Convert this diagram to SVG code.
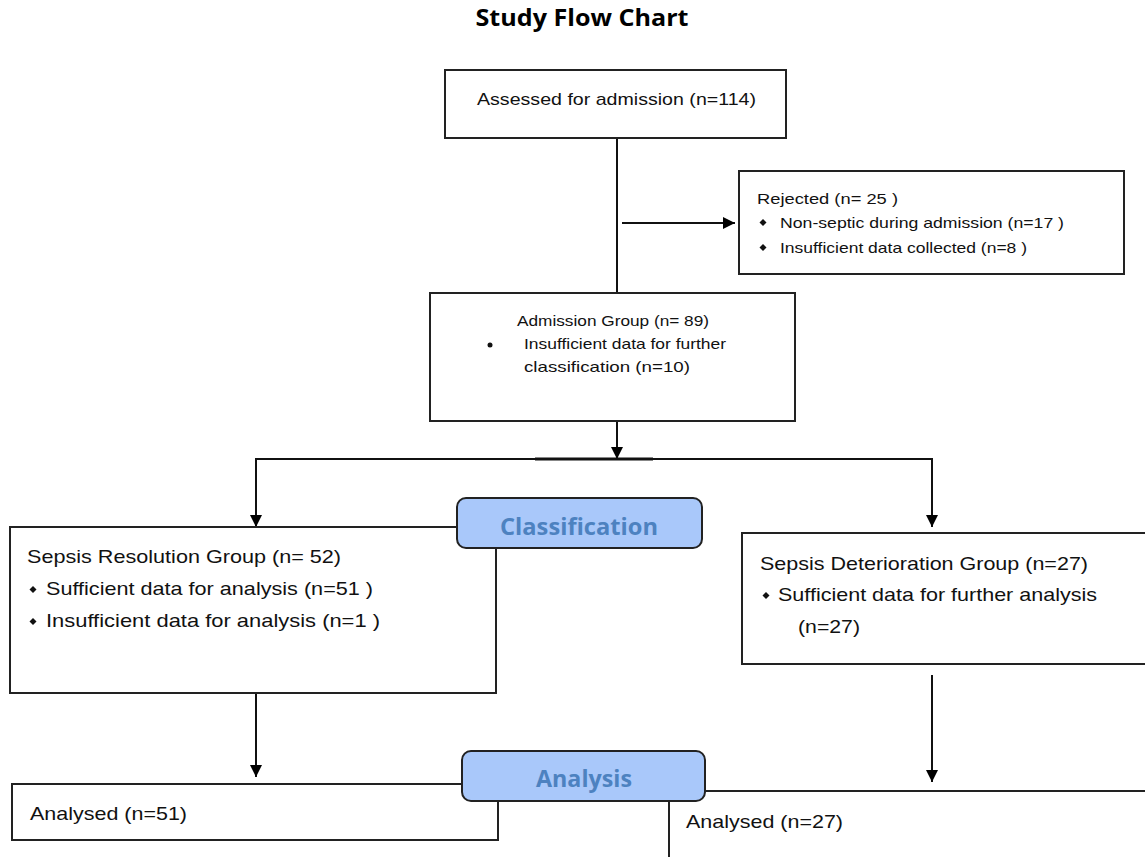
<svg xmlns="http://www.w3.org/2000/svg" width="1145" height="857" viewBox="0 0 1145 857">
<defs>
<marker id="arr" viewBox="0 0 10 10" refX="10" refY="5" markerWidth="12" markerHeight="12" markerUnits="userSpaceOnUse" orient="auto">
<path d="M0,0 L10,5 L0,10 z" fill="#000"/>
</marker>
<style>
.box{fill:#fff;stroke:#222;stroke-width:2}
.pill{fill:#a9c8fa;stroke:#222;stroke-width:2}
.t{font-family:"Liberation Sans",Arial,sans-serif;fill:#111}
.pt{font-family:"Open Sans","Liberation Sans",sans-serif;font-weight:bold;fill:#4d82c0}
.ln{fill:none;stroke:#111;stroke-width:2}
.bul{fill:#111}
</style>
</defs>
<rect width="1145" height="857" fill="#fff"/>
<text x="582" y="26" text-anchor="middle" font-family="'Open Sans','Liberation Sans',sans-serif" font-weight="bold" font-size="23" fill="#000" textLength="213" lengthAdjust="spacingAndGlyphs">Study Flow Chart</text>

<g id="connectors">
<line class="ln" x1="617" y1="138" x2="617" y2="293"/>
<line class="ln" x1="622" y1="223" x2="735" y2="223" marker-end="url(#arr)"/>
<line class="ln" x1="617" y1="421" x2="617" y2="459" marker-end="url(#arr)"/>
<polyline class="ln" points="256,527 256,459 932,459 932,527"/>
<line x1="535" y1="459" x2="653" y2="459" stroke="#111" stroke-width="3"/>
<line class="ln" x1="256" y1="459" x2="256" y2="527" marker-end="url(#arr)"/>
<line class="ln" x1="932" y1="459" x2="932" y2="527" marker-end="url(#arr)"/>
<line class="ln" x1="256" y1="693" x2="256" y2="777" marker-end="url(#arr)"/>
<line class="ln" x1="932" y1="675" x2="932" y2="782" marker-end="url(#arr)"/>
</g>

<g id="assessed">
<rect class="box" x="445" y="70" width="341" height="68"/>
<text class="t" x="477" y="105" font-size="17" textLength="279" lengthAdjust="spacingAndGlyphs">Assessed for admission (n=114)</text>
</g>

<g id="rejected">
<rect class="box" x="739" y="171" width="385" height="103"/>
<text class="t" x="757" y="204" font-size="15" textLength="141" lengthAdjust="spacingAndGlyphs">Rejected  (n= 25 )</text>
<polygon class="bul" points="763,219 766.5,222.5 763,226 759.5,222.5"/>
<text class="t" x="780" y="228" font-size="15" textLength="284" lengthAdjust="spacingAndGlyphs">Non-septic during admission (n=17  )</text>
<polygon class="bul" points="763,244 766.5,247.5 763,251 759.5,247.5"/>
<text class="t" x="780" y="253" font-size="15" textLength="247" lengthAdjust="spacingAndGlyphs">Insufficient data collected (n=8 )</text>
</g>

<g id="admission">
<rect class="box" x="430" y="293" width="365" height="128"/>
<text class="t" x="517" y="326" font-size="15" textLength="192" lengthAdjust="spacingAndGlyphs">Admission Group (n= 89)</text>
<circle class="bul" cx="490" cy="345" r="2.5"/>
<text class="t" x="524" y="349" font-size="15" textLength="202" lengthAdjust="spacingAndGlyphs">Insufficient data for further</text>
<text class="t" x="524" y="372" font-size="15" textLength="166" lengthAdjust="spacingAndGlyphs">classification (n=10)</text>
</g>

<g id="resolution">
<rect class="box" x="10" y="527" width="486" height="166"/>
<text class="t" x="27" y="563" font-size="19" textLength="314" lengthAdjust="spacingAndGlyphs">Sepsis Resolution Group (n= 52)</text>
<polygon class="bul" points="33,586 36.5,589.5 33,593 29.5,589.5"/>
<text class="t" x="46" y="595" font-size="19" textLength="327" lengthAdjust="spacingAndGlyphs">Sufficient data for analysis (n=51 )</text>
<polygon class="bul" points="33,618 36.5,621.5 33,625 29.5,621.5"/>
<text class="t" x="46" y="627" font-size="19" textLength="334" lengthAdjust="spacingAndGlyphs">Insufficient data for analysis (n=1  )</text>
</g>

<g id="classification">
<rect class="pill" x="457" y="498" width="245" height="50" rx="9"/>
<text class="pt" x="579" y="535" text-anchor="middle" font-size="24" textLength="158" lengthAdjust="spacingAndGlyphs">Classification</text>
</g>

<g id="deterioration">
<path class="box" d="M1146,533 L742,533 L742,664 L1146,664"/>
<text class="t" x="760" y="570" font-size="19" textLength="328" lengthAdjust="spacingAndGlyphs">Sepsis Deterioration Group (n=27)</text>
<polygon class="bul" points="766,592 769.5,595.5 766,599 762.5,595.5"/>
<text class="t" x="778" y="601" font-size="19" textLength="319" lengthAdjust="spacingAndGlyphs">Sufficient data for further analysis</text>
<text class="t" x="798" y="633" font-size="19" textLength="62" lengthAdjust="spacingAndGlyphs">(n=27)</text>
</g>

<g id="analysed51">
<rect class="box" x="12" y="784" width="486" height="56"/>
<text class="t" x="30" y="820" font-size="19" textLength="157" lengthAdjust="spacingAndGlyphs">Analysed (n=51)</text>
</g>

<g id="analysed27">
<path class="box" d="M669,858 L669,791 L1146,791"/>
<text class="t" x="686" y="828" font-size="19" textLength="157" lengthAdjust="spacingAndGlyphs">Analysed (n=27)</text>
</g>

<g id="analysis">
<rect class="pill" x="462" y="751" width="243" height="50" rx="9"/>
<text class="pt" x="584" y="787" text-anchor="middle" font-size="24" textLength="96" lengthAdjust="spacingAndGlyphs">Analysis</text>
</g>
</svg>
